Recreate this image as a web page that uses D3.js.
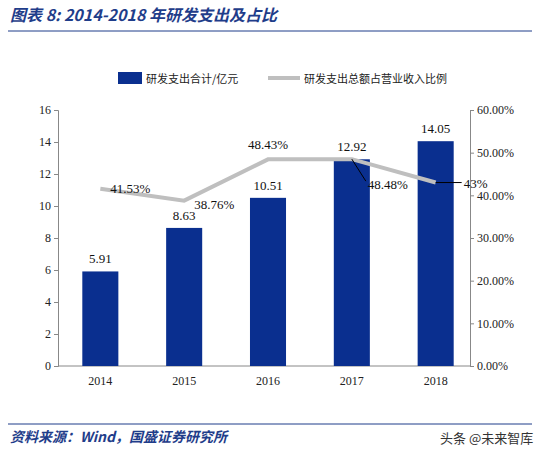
<!DOCTYPE html>
<html lang="zh">
<head>
<meta charset="UTF-8">
<script src="https://cdn.jsdelivr.net/npm/d3@7"></script>
<style>body{margin:0;background:#fff;font-family:"Liberation Serif","Noto Sans CJK SC",serif;}</style>
</head>
<body>
<svg id="chart" width="538" height="455"></svg>
<script>
const years = ["2014", "2015", "2016", "2017", "2018"];
const spend = [5.91, 8.63, 10.51, 12.92, 14.05];
const ratio = [41.53, 38.76, 48.43, 48.48, 43];
const ratioLabels = ["41.53%", "38.76%", "48.43%", "48.48%", "43%"];
const leftTicks = [0, 2, 4, 6, 8, 10, 12, 14, 16];
const rightTicks = [0, 10, 20, 30, 40, 50, 60];

const svg = d3.select("#chart");
const blue = "#0a2f8f", titleBlue = "#1f3d8a";
const cjk = '"Noto Sans CJK SC", sans-serif';

// title + rules
svg.append("text").attr("x", 10).attr("y", 21).attr("fill", titleBlue)
    .attr("font-size", 16).attr("font-weight", "bold").attr("font-style", "italic")
    .attr("font-family", cjk).text("图表 8:  2014-2018 年研发支出及占比");
svg.append("line").attr("x1", 8).attr("x2", 532).attr("y1", 31).attr("y2", 31)
    .attr("stroke", titleBlue).attr("stroke-width", 1);
svg.append("line").attr("x1", 8).attr("x2", 532).attr("y1", 424).attr("y2", 424)
    .attr("stroke", titleBlue).attr("stroke-width", 1);
svg.append("text").attr("x", 10).attr("y", 442).attr("fill", titleBlue)
    .attr("font-size", 14).attr("font-style", "italic").attr("font-weight", "bold")
    .attr("font-family", cjk).text("资料来源：Wind，国盛证券研究所");
svg.append("text").attr("x", 440).attr("y", 443).attr("fill", "#333")
    .attr("font-size", 13).attr("font-family", cjk).text("头条 @未来智库");

const x = d3.scaleBand().domain(years).range([58, 478]).paddingInner(0.57).paddingOuter(0.29);
const yL = d3.scaleLinear().domain([0, 16]).range([366, 110]);
const yR = d3.scaleLinear().domain([0, 60]).range([366, 110]);

const axL = svg.append("g").attr("transform", "translate(58,0)")
    .call(d3.axisLeft(yL).tickValues(leftTicks).tickSize(4));
const axR = svg.append("g").attr("transform", "translate(470,0)")
    .call(d3.axisRight(yR).tickValues(rightTicks).tickSize(4).tickFormat(d => d.toFixed(2) + "%"));
const axB = svg.append("g").attr("transform", "translate(0,366)")
    .call(d3.axisBottom(x).tickSize(0).tickPadding(10));
svg.append("line").attr("x1", 58).attr("x2", 470).attr("y1", 366).attr("y2", 366).attr("stroke", "#888");
[axL, axR, axB].forEach(a => {
    a.selectAll("path,line").attr("stroke", "#888");
    a.selectAll("text").attr("font-size", 12).attr("fill", "#222").attr("font-family", "Liberation Serif");
});
axB.select("path").remove();

svg.selectAll(".bar").data(spend).join("rect")
    .attr("x", (d, i) => x(years[i])).attr("width", x.bandwidth())
    .attr("y", d => yL(d)).attr("height", d => 366 - yL(d)).attr("fill", blue);
svg.selectAll(".bl").data(spend).join("text")
    .attr("x", (d, i) => x(years[i]) + x.bandwidth() / 2).attr("y", d => yL(d) - 8)
    .attr("text-anchor", "middle").attr("font-size", 13).attr("fill", "#111").text(d => d.toFixed(2));

const cx = i => x(years[i]) + x.bandwidth() / 2;
svg.append("path").datum(ratio)
    .attr("d", d3.line().x((d, i) => cx(i)).y(d => yR(d)))
    .attr("fill", "none").attr("stroke", "#bfbfbf").attr("stroke-width", 4);

// leader lines for 2017/2018
svg.append("line").attr("x1", cx(3)).attr("y1", yR(ratio[3])).attr("x2", cx(3) + 14).attr("y2", yR(ratio[3]) + 22)
    .attr("stroke", "#000");
svg.append("line").attr("x1", cx(4)).attr("y1", yR(ratio[4])).attr("x2", cx(4) + 26).attr("y2", yR(ratio[4]))
    .attr("stroke", "#000");

const offs = [[10, 4, "start"], [10, 8, "start"], [0, -10, "middle"], [16, 30, "start"], [28, 5, "start"]];
svg.selectAll(".rl").data(ratio).join("text")
    .attr("x", (d, i) => cx(i) + offs[i][0]).attr("y", (d, i) => yR(d) + offs[i][1])
    .attr("text-anchor", (d, i) => offs[i][2]).attr("font-size", 13).attr("fill", "#111")
    .text((d, i) => ratioLabels[i]);

// legend
svg.append("rect").attr("x", 118).attr("y", 72).attr("width", 24).attr("height", 12).attr("fill", blue);
svg.append("text").attr("x", 146).attr("y", 83).attr("font-size", 11).attr("font-family", cjk)
    .attr("fill", "#222").text("研发支出合计/亿元");
svg.append("line").attr("x1", 268).attr("x2", 300).attr("y1", 78).attr("y2", 78)
    .attr("stroke", "#bfbfbf").attr("stroke-width", 4);
svg.append("text").attr("x", 304).attr("y", 83).attr("font-size", 11).attr("font-family", cjk)
    .attr("fill", "#222").text("研发支出总额占营业收入比例");
</script>
</body>
</html>
